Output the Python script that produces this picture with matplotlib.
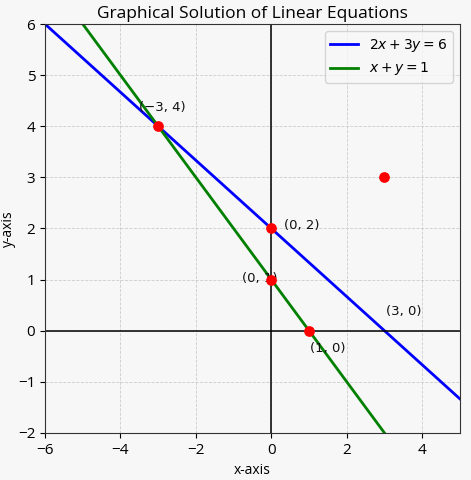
import matplotlib
matplotlib.use("Agg")
import matplotlib.pyplot as plt
import numpy as np

x_range = [-6, 5]
y_range = [-2, 6]
line1_label = r'$2x + 3y = 6$'
line2_label = r'$x + y = 1$'
points_x = [-3, 0, 0, 1, 3]
points_y = [4, 2, 1, 0, 3]
label_texts = ['(−3, 4)', '(0, 2)', '(0, 1)', '(1, 0)', '(3, 0)']
label_x = [-3.5, 0.33, -0.77, 1.03, 3.05]
label_y = [4.37, 2.05, 1.03, -0.35, 0.37]

plt.rcParams['font.family'] = ['Open Sans', 'DejaVu Sans']
fig = plt.figure(figsize=(4.71, 4.80), dpi=100, facecolor='#f7f7f7')
ax = fig.add_axes([0.0955, 0.098, 0.881, 0.852])
ax.set_facecolor('#f7f7f7')

xs = np.linspace(x_range[0], x_range[1], 200)
ax.plot(xs, (6 - 2 * xs) / 3, color='blue', lw=2, label=line1_label)
ax.plot(xs, 1 - xs, color='green', lw=2, label=line2_label)
ax.scatter(points_x, points_y, color='red', s=45, zorder=5)
for t, lx, ly in zip(label_texts, label_x, label_y):
    ax.text(lx, ly, t, fontsize=9.5, family='DejaVu Sans', va='center', ha='left', color='#111111')

ax.axhline(0, color='black', lw=1.1)
ax.axvline(0, color='black', lw=1.1)
ax.set_xlim(*x_range)
ax.set_ylim(*y_range)
ax.grid(True, linestyle='--', color='#cccccc', lw=0.6)
ax.set_xlabel('x-axis', fontsize=10)
ax.set_ylabel('y-axis', fontsize=10)
ax.yaxis.set_label_coords(-0.07, 0.5)
ax.set_title('Graphical Solution of Linear Equations', fontsize=12.5, pad=4)
ax.tick_params(labelsize=11)
leg = ax.legend(loc='upper right', fontsize=10, facecolor='#f7f7f7')
for sp in ax.spines.values():
    sp.set_color('#333333')
fig.savefig('out.png', dpi=100, facecolor=fig.get_facecolor())
